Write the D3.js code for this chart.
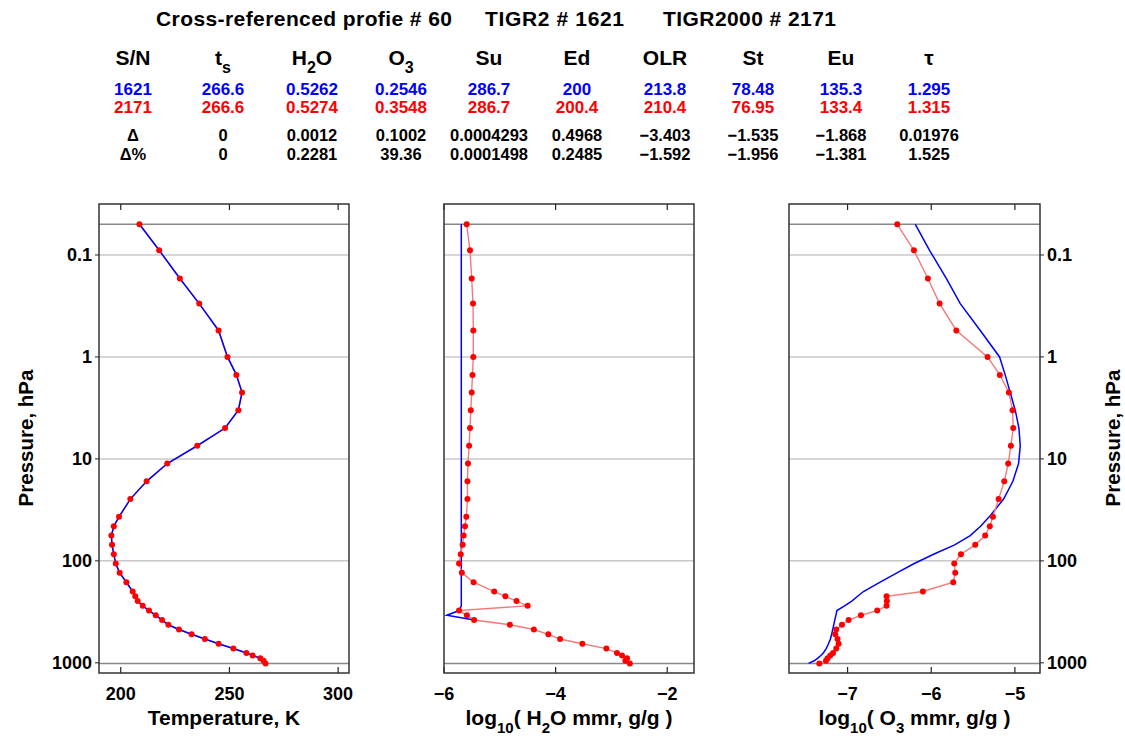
<!DOCTYPE html>
<html><head><meta charset="utf-8">
<script src="https://cdn.jsdelivr.net/npm/d3@7"></script>
<style>
body{margin:0;background:#fff;}
svg{display:block;}
text{font-family:"Liberation Sans",Arial,sans-serif;font-weight:bold;}
</style></head>
<body><svg id="c" width="1125" height="738"></svg>
<script>
// ---- data ----
const pressure = [0.05,0.09,0.17,0.30,0.55,1.0,1.5,2.23,3.33,4.98,7.43,11.11,16.6,24.79,37.04,45.73,56.46,69.71,86.07,106.27,131.2,161.99,200,222.65,247.87,275.95,307.2,341.99,380.73,423.85,471.86,525.3,584.79,651.04,724.78,800,848.69,900.33,955.12,1013];
const tempRed = [208.6,217.7,227.2,236.1,245.0,249.1,253.2,255.8,254.1,248.0,235.2,221.4,211.9,204.4,199.2,196.8,195.7,196.0,196.8,197.7,199.5,202.6,205.5,206.7,207.8,210.1,213.0,216.1,219.0,221.9,226.8,232.6,238.7,245.0,251.8,257.8,260.7,264.2,265.7,266.6];
const tempBlue = [208.6,217.7,227.2,236.1,245.0,249.1,253.2,255.8,254.1,248.0,235.2,221.4,211.9,204.4,199.2,196.8,195.7,196.0,196.8,197.7,199.5,202.6,205.5,206.7,207.8,210.1,213.0,216.1,219.0,221.9,226.8,232.6,238.7,245.0,251.8,257.8,260.7,264.2,265.7,266.6];
const h2oRed = [-5.594,-5.534,-5.504,-5.48,-5.475,-5.475,-5.49,-5.504,-5.52,-5.534,-5.55,-5.57,-5.58,-5.58,-5.60,-5.624,-5.648,-5.666,-5.70,-5.73,-5.68,-5.47,-5.10,-4.90,-4.70,-4.50,-5.73,-5.59,-5.46,-4.82,-4.39,-4.13,-3.92,-3.52,-3.09,-2.90,-2.81,-2.72,-2.75,-2.67];
const h2oBlue = [-5.69,-5.69,-5.69,-5.69,-5.69,-5.69,-5.69,-5.69,-5.69,-5.69,-5.69,-5.69,-5.69,-5.69,-5.69,-5.69,-5.69,-5.69,-5.69,-5.69,-5.69,-5.69,-5.69,-5.69,-5.69,-5.69,-5.73,-5.95,-5.46];
const o3Red = [-6.406,-6.207,-6.04,-5.90,-5.70,-5.327,-5.18,-5.072,-5.028,-5.02,-5.048,-5.08,-5.127,-5.195,-5.263,-5.30,-5.355,-5.474,-5.645,-5.725,-5.713,-5.737,-6.10,-6.534,-6.53,-6.534,-6.645,-6.84,-6.988,-7.067,-7.135,-7.147,-7.12,-7.107,-7.135,-7.174,-7.207,-7.239,-7.258,-7.338];
const o3Blue = [-6.19,-6.02,-5.82,-5.653,-5.414,-5.183,-5.116,-5.056,-4.996,-4.952,-4.936,-4.956,-5.024,-5.135,-5.307,-5.41,-5.534,-5.72,-5.972,-6.203,-6.41,-6.61,-6.81,-6.88,-6.95,-7.036,-7.127,-7.14,-7.153,-7.165,-7.178,-7.19,-7.205,-7.228,-7.255,-7.29,-7.32,-7.355,-7.40,-7.466];
const pressureTicks = [0.1,1,10,100,1000];
const pressureTickLabels = ["0.1","1","10","100","1000"];
const tempTicks = [200,250,300];
const h2oTicks = [-6,-4,-2];
const o3Ticks = [-7,-6,-5];
const topLevel = 0.05, surfaceLevel = 1013;

const titleParts = ["Cross-referenced profie # 60","TIGR2 # 1621","TIGR2000 # 2171"];
const colHeaders = [["S/N",""],["t","s"],["H","2","O"],["O","3"],["Su",""],["Ed",""],["OLR",""],["St",""],["Eu",""],["τ",""]];
const rowBlue = ["1621","266.6","0.5262","0.2546","286.7","200","213.8","78.48","135.3","1.295"];
const rowRed = ["2171","266.6","0.5274","0.3548","286.7","200.4","210.4","76.95","133.4","1.315"];
const rowDelta = ["Δ","0","0.0012","0.1002","0.0004293","0.4968","−3.403","−1.535","−1.868","0.01976"];
const rowDeltaPct = ["Δ%","0","0.2281","39.36","0.0001498","0.2485","−1.592","−1.956","−1.381","1.525"];

// ---- layout ----
const svg = d3.select("#c");
const colX = [133,223,312,401,489,577,665,753,841,929];
const titleX = [156,485,663];

titleParts.forEach((t,i)=>svg.append("text").attr("x",titleX[i]).attr("y",26).attr("font-size",21).attr("textLength",[296,139,173][i]).attr("fill","#000").text(t));

colHeaders.forEach((h,i)=>{
  const t = svg.append("text").attr("x",colX[i]).attr("y",65).attr("text-anchor","middle").attr("font-size",21).attr("fill","#000");
  if(h.length===2){
    t.append("tspan").text(h[0]);
    if(h[1]) t.append("tspan").attr("dy",8).attr("font-size",16).text(h[1]);
  } else {
    t.append("tspan").text(h[0]);
    t.append("tspan").attr("dy",8).attr("font-size",16).text(h[1]);
    t.append("tspan").attr("dy",-8).text(h[2]);
  }
});
function row(vals,yy,color,size){
  vals.forEach((v,i)=>svg.append("text").attr("x",colX[i]).attr("y",yy).attr("text-anchor","middle").attr("font-size",size).attr("fill",color).text(v));
}
row(rowBlue,95,"#0000ff",17);
row(rowRed,113,"#ff0000",17);
row(rowDelta,141,"#000",16.5);
row(rowDeltaPct,160,"#000",16.5);

const plotTop=204, plotBottom=673;
const y = d3.scaleLog().domain([Math.pow(10,-1.5),Math.pow(10,3.1)]).range([plotTop,plotBottom]);

const panels = [
  {x0:99,x1:349,domain:[190,305],ticks:tempTicks,red:tempRed,blue:tempBlue,blueOnTop:true,title:[["Temperature, K",0]]},
  {x0:444,x1:694,domain:[-6,-1.52],ticks:h2oTicks,red:h2oRed,blue:h2oBlue,blueOnTop:false,title:[["log",0],["10",1],["( H",-1],["2",1],["O mmr, g/g )",-1]]},
  {x0:789,x1:1040,domain:[-7.7,-4.7],ticks:o3Ticks,red:o3Red,blue:o3Blue,blueOnTop:false,title:[["log",0],["10",1],["( O",-1],["3",1],[" mmr, g/g )",-1]]}
];

panels.forEach((P,pi)=>{
  const x = d3.scaleLinear().domain(P.domain).range([P.x0,P.x1]);
  const g = svg.append("g");
  pressureTicks.slice(0,4).forEach(p=>g.append("line").attr("x1",P.x0).attr("x2",P.x1).attr("y1",y(p)).attr("y2",y(p)).attr("stroke","#c8c8c8").attr("stroke-width",1.5));
  [topLevel,surfaceLevel].forEach(p=>g.append("line").attr("x1",P.x0).attr("x2",P.x1).attr("y1",y(p)).attr("y2",y(p)).attr("stroke","#888").attr("stroke-width",1.5));
  P.ticks.forEach(t=>{
    g.append("line").attr("x1",x(t)).attr("x2",x(t)).attr("y1",plotTop).attr("y2",plotTop+6).attr("stroke","#222").attr("stroke-width",1.2);
    g.append("line").attr("x1",x(t)).attr("x2",x(t)).attr("y1",plotBottom).attr("y2",plotBottom-6).attr("stroke","#222").attr("stroke-width",1.2);
    g.append("text").attr("x",x(t)).attr("y",700).attr("text-anchor","middle").attr("font-size",18).attr("fill","#000").text(String(t).replace("-","−"));
  });
  const line = d3.line().x(d=>x(d[0])).y(d=>y(d[1]));
  const redPts = P.red.map((v,i)=>[v,pressure[i]]);
  const bluePts = P.blue.map((v,i)=>[v,pressure[i]]);
  const drawBlue=()=>g.append("path").attr("d",line(bluePts)).attr("fill","none").attr("stroke","#0000ff").attr("stroke-width",1.5);
  const drawRed=()=>g.append("path").attr("d",line(redPts)).attr("fill","none").attr("stroke","#f47a7a").attr("stroke-width",1.4);
  if(P.blueOnTop){drawRed();drawBlue();} else {drawBlue();drawRed();}
  g.selectAll("circle").data(redPts).enter().append("circle").attr("cx",d=>x(d[0])).attr("cy",d=>y(d[1])).attr("r",3).attr("fill","#ff0000");
  g.append("rect").attr("x",P.x0).attr("y",plotTop).attr("width",P.x1-P.x0).attr("height",plotBottom-plotTop).attr("fill","none").attr("stroke","#333").attr("stroke-width",1.5);
  const tt = g.append("text").attr("x",(P.x0+P.x1)/2).attr("y",725).attr("text-anchor","middle").attr("font-size",21).attr("fill","#000");
  P.title.forEach(([s,sub])=>{
    const ts = tt.append("tspan").text(s);
    if(sub===1) ts.attr("dy",8).attr("font-size",15);
    if(sub===-1) ts.attr("dy",-8);
  });
});

pressureTicks.forEach((p,i)=>{
  svg.append("line").attr("x1",95).attr("x2",99).attr("y1",y(p)).attr("y2",y(p)).attr("stroke","#222");
  svg.append("text").attr("x",92).attr("y",y(p)+6).attr("text-anchor","end").attr("font-size",18).attr("fill","#000").text(pressureTickLabels[i]);
  svg.append("line").attr("x1",1040).attr("x2",1044).attr("y1",y(p)).attr("y2",y(p)).attr("stroke","#222");
  svg.append("text").attr("x",1047).attr("y",y(p)+6).attr("text-anchor","start").attr("font-size",18).attr("fill","#000").text(pressureTickLabels[i]);
});
svg.append("text").attr("transform","translate(33,438) rotate(-90)").attr("text-anchor","middle").attr("font-size",20.5).attr("fill","#000").text("Pressure, hPa");
svg.append("text").attr("transform","translate(1120,438) rotate(-90)").attr("text-anchor","middle").attr("font-size",20.5).attr("fill","#000").text("Pressure, hPa");
</script></body></html>
